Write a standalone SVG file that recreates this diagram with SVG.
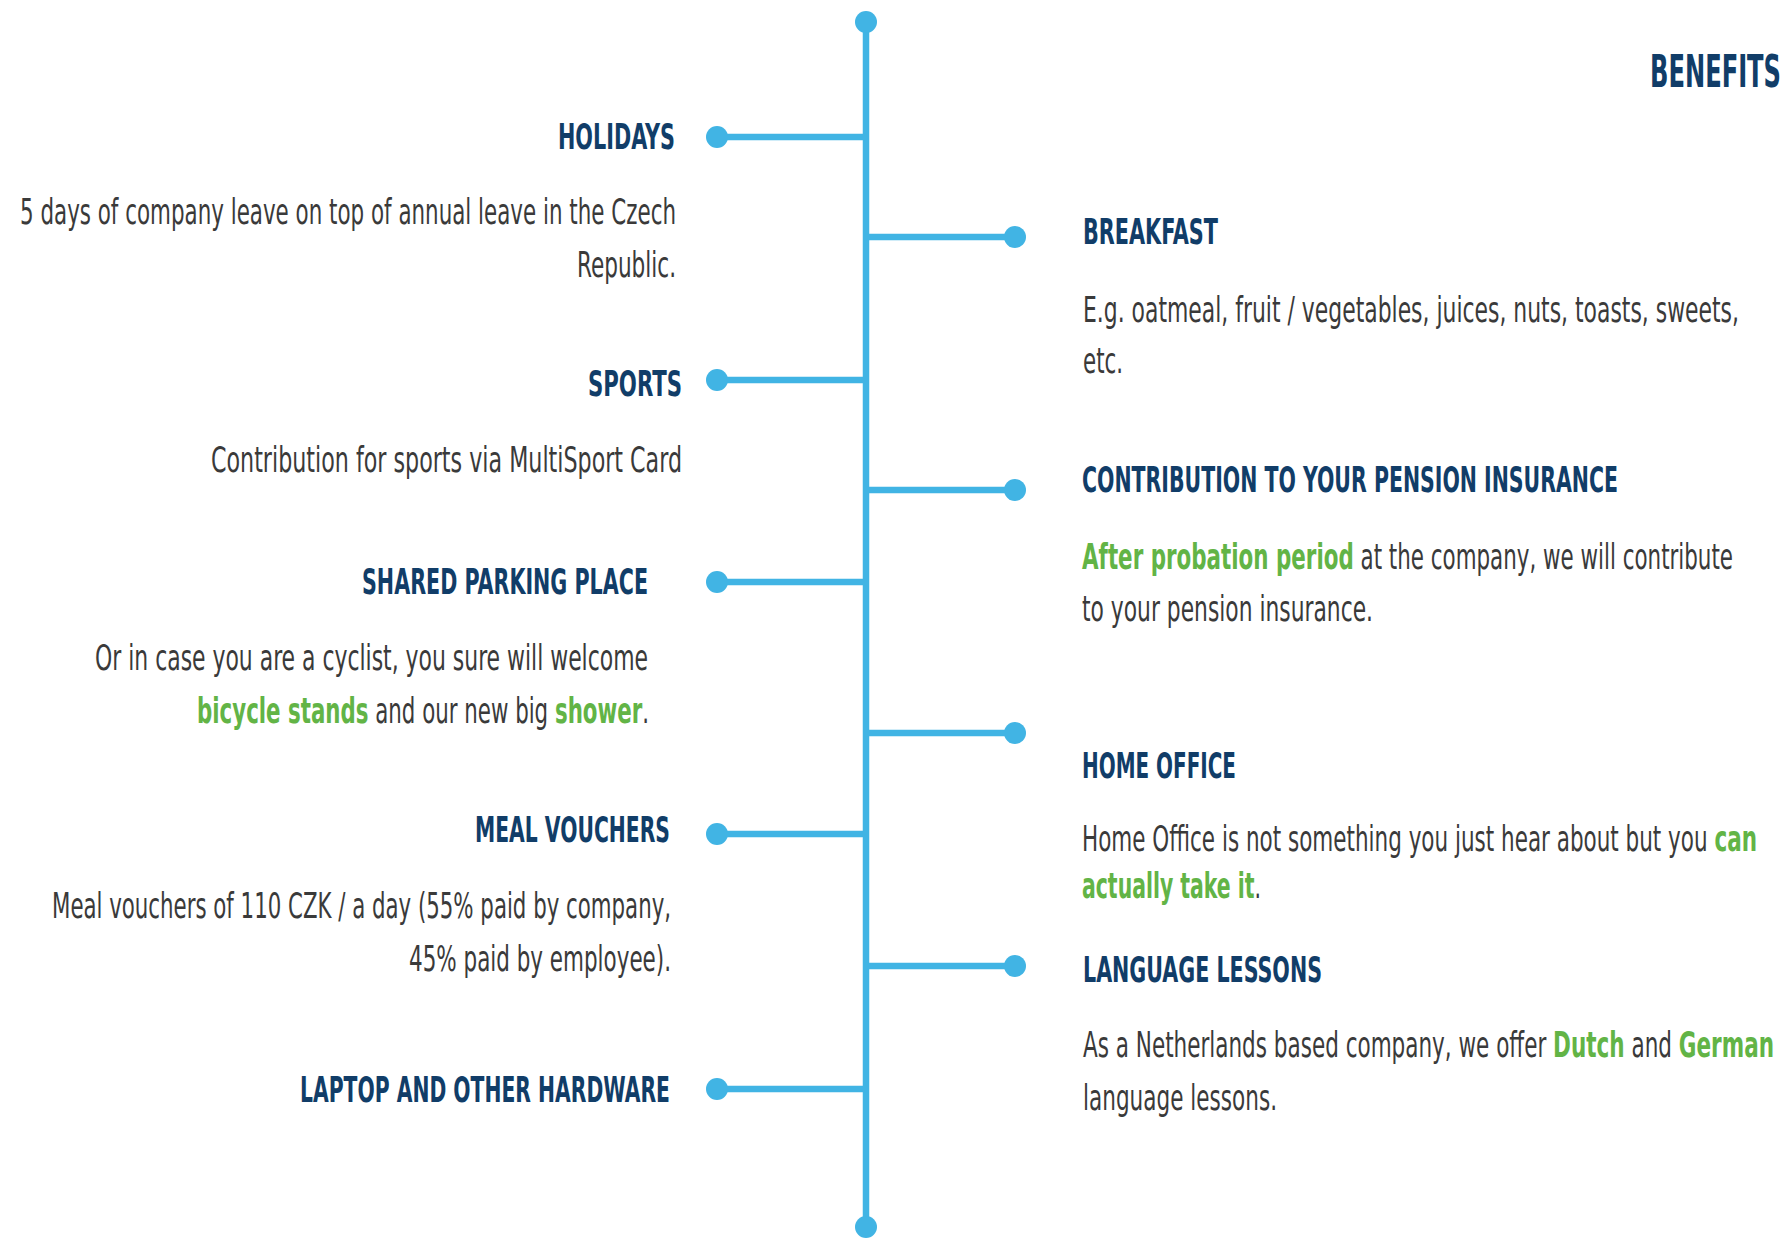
<svg xmlns="http://www.w3.org/2000/svg" width="1787" height="1239" viewBox="0 0 1787 1239">
<style>
.t{font-family:"DejaVu Sans Condensed","DejaVu Sans","Liberation Sans",sans-serif;font-stretch:condensed;font-weight:bold;font-size:36px;fill:#113d68}
.b{font-family:"DejaVu Sans Condensed","DejaVu Sans","Liberation Sans",sans-serif;font-stretch:condensed;font-size:35px;fill:#3a3a3a}
.g{font-weight:bold;fill:#62b446}
.ln{stroke:#41b4e4;stroke-width:6.5;fill:none;stroke-linecap:butt}
.dot{fill:#41b4e4}
</style>
<rect width="1787" height="1239" fill="#ffffff"/>
<g id="connectors">
<line class="ln" x1="866" y1="22" x2="866" y2="1227"/>
<circle class="dot" cx="866" cy="22" r="11"/>
<circle class="dot" cx="866" cy="1227" r="11"/>
<line class="ln" x1="717" y1="137" x2="866" y2="137"/><circle class="dot" cx="717" cy="137" r="11"/>
<line class="ln" x1="717" y1="380" x2="866" y2="380"/><circle class="dot" cx="717" cy="380" r="11"/>
<line class="ln" x1="717" y1="582" x2="866" y2="582"/><circle class="dot" cx="717" cy="582" r="11"/>
<line class="ln" x1="717" y1="834" x2="866" y2="834"/><circle class="dot" cx="717" cy="834" r="11"/>
<line class="ln" x1="717" y1="1089" x2="866" y2="1089"/><circle class="dot" cx="717" cy="1089" r="11"/>
<line class="ln" x1="866" y1="237" x2="1015" y2="237"/><circle class="dot" cx="1015" cy="237" r="11"/>
<line class="ln" x1="866" y1="490" x2="1015" y2="490"/><circle class="dot" cx="1015" cy="490" r="11"/>
<line class="ln" x1="866" y1="733" x2="1015" y2="733"/><circle class="dot" cx="1015" cy="733" r="11"/>
<line class="ln" x1="866" y1="966" x2="1015" y2="966"/><circle class="dot" cx="1015" cy="966" r="11"/>
</g>
<g id="title">
<text class="t" style="font-size:44px" x="1650" y="87" textLength="131" lengthAdjust="spacingAndGlyphs">BENEFITS</text>
</g>
<g id="holidays">
<text class="t" x="558" y="149" textLength="117" lengthAdjust="spacingAndGlyphs">HOLIDAYS</text>
<text class="b" x="20" y="224" textLength="656" lengthAdjust="spacingAndGlyphs">5 days of company leave on top of annual leave in the Czech</text>
<text class="b" x="577" y="277" textLength="99" lengthAdjust="spacingAndGlyphs">Republic.</text>
</g>
<g id="sports">
<text class="t" x="588" y="396" textLength="94" lengthAdjust="spacingAndGlyphs">SPORTS</text>
<text class="b" x="211" y="472" textLength="471" lengthAdjust="spacingAndGlyphs">Contribution for sports via MultiSport Card</text>
</g>
<g id="parking">
<text class="t" x="362" y="594" textLength="286" lengthAdjust="spacingAndGlyphs">SHARED PARKING PLACE</text>
<text class="b" x="95" y="670" textLength="553" lengthAdjust="spacingAndGlyphs">Or in case you are a cyclist, you sure will welcome</text>
<text class="b" x="197" y="723" textLength="452" lengthAdjust="spacingAndGlyphs"><tspan class="g">bicycle stands</tspan> and our new big <tspan class="g">shower</tspan>.</text>
</g>
<g id="meal">
<text class="t" x="475" y="842" textLength="195" lengthAdjust="spacingAndGlyphs">MEAL VOUCHERS</text>
<text class="b" x="52" y="918" textLength="619" lengthAdjust="spacingAndGlyphs">Meal vouchers of 110 CZK / a day (55% paid by company,</text>
<text class="b" x="409" y="971" textLength="262" lengthAdjust="spacingAndGlyphs">45% paid by employee).</text>
</g>
<g id="laptop">
<text class="t" x="300" y="1102" textLength="370" lengthAdjust="spacingAndGlyphs">LAPTOP AND OTHER HARDWARE</text>
</g>
<g id="breakfast">
<text class="t" x="1083" y="244" textLength="135" lengthAdjust="spacingAndGlyphs">BREAKFAST</text>
<text class="b" x="1083" y="322" textLength="656" lengthAdjust="spacingAndGlyphs">E.g. oatmeal, fruit / vegetables, juices, nuts, toasts, sweets,</text>
<text class="b" x="1083" y="373" textLength="40" lengthAdjust="spacingAndGlyphs">etc.</text>
</g>
<g id="pension">
<text class="t" x="1082" y="492" textLength="536" lengthAdjust="spacingAndGlyphs">CONTRIBUTION TO YOUR PENSION INSURANCE</text>
<text class="b" x="1082" y="569" textLength="651" lengthAdjust="spacingAndGlyphs"><tspan class="g">After probation period</tspan> at the company, we will contribute</text>
<text class="b" x="1082" y="621" textLength="291" lengthAdjust="spacingAndGlyphs">to your pension insurance.</text>
</g>
<g id="homeoffice">
<text class="t" x="1082" y="778" textLength="154" lengthAdjust="spacingAndGlyphs">HOME OFFICE</text>
<text class="b" x="1082" y="851" textLength="675" lengthAdjust="spacingAndGlyphs">Home Office is not something you just hear about but you <tspan class="g">can</tspan></text>
<text class="b" x="1082" y="898" textLength="179" lengthAdjust="spacingAndGlyphs"><tspan class="g">actually take it</tspan>.</text>
</g>
<g id="language">
<text class="t" x="1083" y="982" textLength="239" lengthAdjust="spacingAndGlyphs">LANGUAGE LESSONS</text>
<text class="b" x="1083" y="1057" textLength="691" lengthAdjust="spacingAndGlyphs">As a Netherlands based company, we offer <tspan class="g">Dutch</tspan> and <tspan class="g">German</tspan></text>
<text class="b" x="1083" y="1110" textLength="194" lengthAdjust="spacingAndGlyphs">language lessons.</text>
</g>
</svg>
